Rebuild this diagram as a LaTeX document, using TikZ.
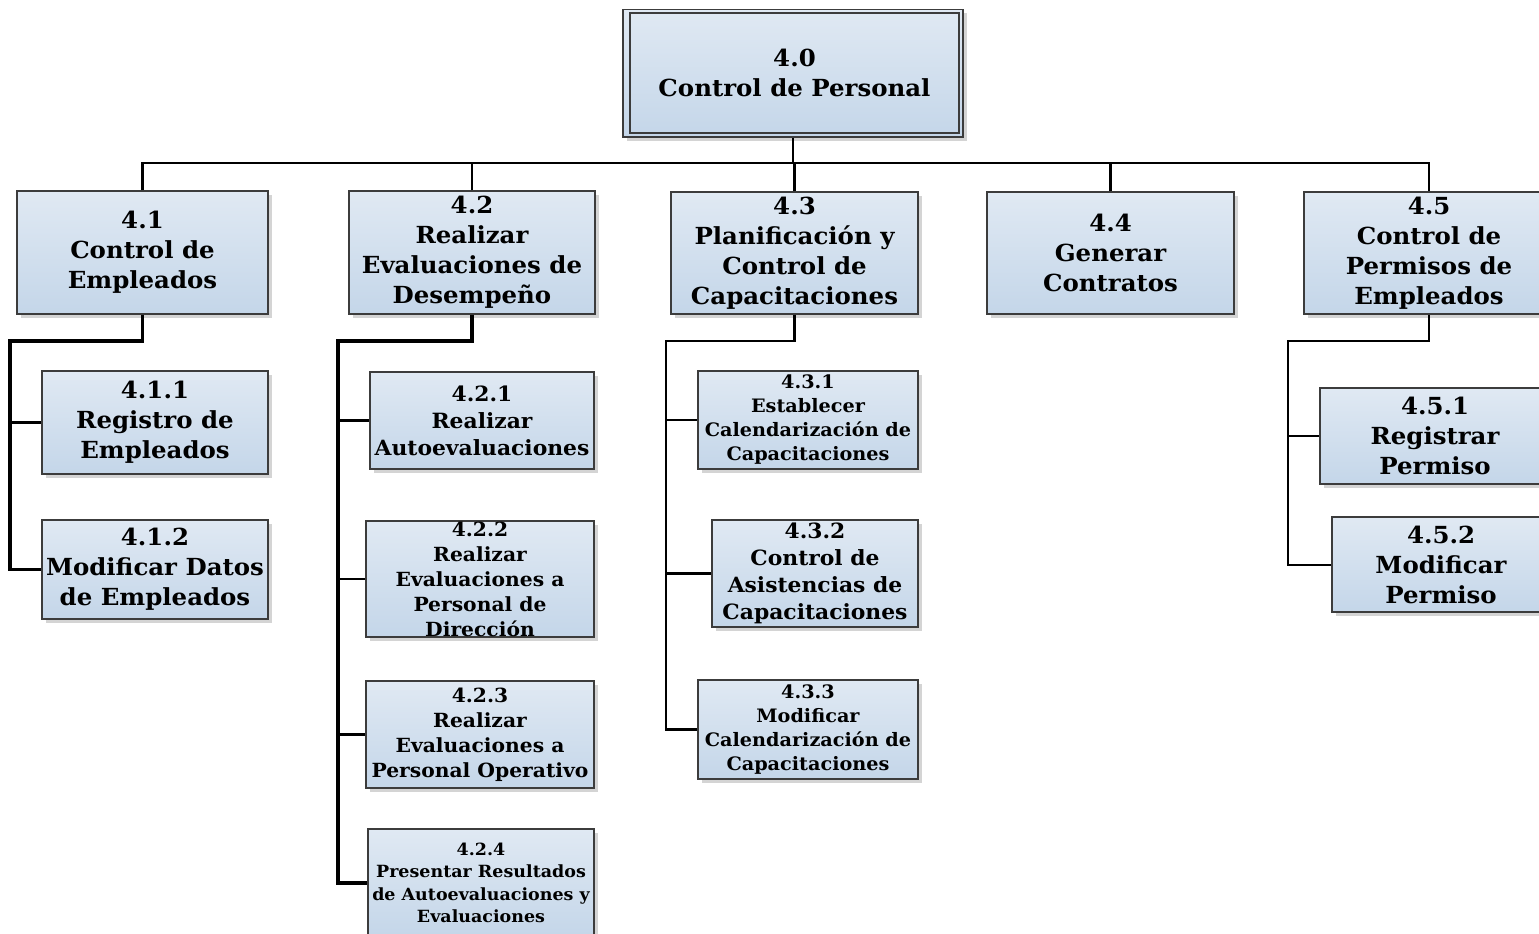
\documentclass[tikz,border=0pt]{standalone}
\usepackage{fontspec}
\setmainfont{DejaVu Serif}[FakeStretch=1.04]
\usetikzlibrary{shadows}
\definecolor{boxtop}{RGB}{224,233,243}
\definecolor{boxbot}{RGB}{196,214,233}
\definecolor{boxline}{RGB}{60,60,60}
\definecolor{shadowgray}{RGB}{212,212,212}
\newcommand{\fbig}{\fontsize{23.5}{30}\selectfont}
\newcommand{\fmed}{\fontsize{21}{27}\selectfont}
\newcommand{\fmid}{\fontsize{19.5}{25}\selectfont}
\newcommand{\fsml}{\fontsize{18.5}{24}\selectfont}
\newcommand{\ftin}{\fontsize{16.8}{22.5}\selectfont}
\tikzset{
  box/.style={rectangle, draw=boxline, line width=1.3pt,
    top color=boxtop, bottom color=boxbot, align=center, inner sep=0pt,
    font=\bfseries\fbig,
    drop shadow={shadow xshift=4pt, shadow yshift=-4pt, fill=shadowgray, opacity=1}},
  frame/.style={rectangle, draw=boxline, line width=1.2pt, align=center,
    inner sep=0pt, font=\bfseries\fbig},
  link/.style={draw=black, line width=3.1pt},
  buslink/.style={draw=black, line width=2.8pt},
  thinlink/.style={draw=black, line width=2.4pt},
  hairlink/.style={draw=black, line width=2.0pt}
}
\begin{document}
\begin{tikzpicture}[x=1pt,y=-1pt]
\useasboundingbox (0,0) rectangle (1539,934);

% root
\node[box, minimum width=340pt, minimum height=127.5pt] (n40) at (793,73.25) {};
\node[frame, minimum width=329pt, minimum height=120pt] (n40i) at (794.5,73) {4.0\\Control de Personal};

% first level
\node[box, minimum width=251pt, minimum height=123pt] (n41) at (142.5,252.5) {4.1\\Control de\\Empleados};
\node[box, minimum width=246pt, minimum height=123pt] (n42) at (472,252.5) {4.2\\Realizar\\Evaluaciones de\\Desempeño};
\node[box, minimum width=247pt, minimum height=122pt] (n43) at (794.5,253) {4.3\\Planificación y\\Control de\\Capacitaciones};
\node[box, minimum width=247pt, minimum height=122pt] (n44) at (1110.5,253) {4.4\\Generar\\Contratos};
\node[box, minimum width=250pt, minimum height=122pt] (n45) at (1429,253) {4.5\\Control de\\Permisos de\\Empleados};

% second level
\node[box, minimum width=226pt, minimum height=103pt] (n411) at (155,422.5) {4.1.1\\Registro de\\Empleados};
\node[box, minimum width=226pt, minimum height=99pt] (n412) at (155,569.5) {4.1.2\\Modificar Datos\\de Empleados};

\node[box, minimum width=224pt, minimum height=97pt, font=\bfseries\fmed] (n421) at (482,420.5) {4.2.1\\Realizar\\Autoevaluaciones};
\node[box, minimum width=228pt, minimum height=116pt, font=\bfseries\fmid] (n422) at (480,579) {4.2.2\\Realizar\\Evaluaciones a\\Personal de\\Dirección};
\node[box, minimum width=228pt, minimum height=107pt, font=\bfseries\fmid] (n423) at (480,734.5) {4.2.3\\Realizar\\Evaluaciones a\\Personal Operativo};
\node[box, minimum width=226pt, minimum height=108pt, font=\bfseries\ftin] (n424) at (481,883) {4.2.4\\Presentar Resultados\\de Autoevaluaciones y\\Evaluaciones};

\node[box, minimum width=220pt, minimum height=98pt, font=\bfseries\fsml] (n431) at (808,420) {4.3.1\\Establecer\\Calendarización de\\Capacitaciones};
\node[box, minimum width=206pt, minimum height=107pt, font=\bfseries\fmed] (n432) at (815,573.5) {4.3.2\\Control de\\Asistencias de\\Capacitaciones};
\node[box, minimum width=220pt, minimum height=99pt, font=\bfseries\fsml] (n433) at (808,729.5) {4.3.3\\Modificar\\Calendarización de\\Capacitaciones};

\node[box, minimum width=230pt, minimum height=96pt] (n451) at (1435,436) {4.5.1\\Registrar\\Permiso};
\node[box, minimum width=218pt, minimum height=95pt] (n452) at (1441,564.5) {4.5.2\\Modificar\\Permiso};

% bus between the root and the first level
\coordinate (bus) at (0,163);
\draw[buslink] (n41.north) -- (n41.north |- bus) -- (n45.north |- bus) -- (n45.north);
\draw[buslink] (n40.south) -- (n40.south |- bus);
\draw[buslink] (n42.north) -- (n42.north |- bus);
\draw[buslink] (n43.north) -- (n43.north |- bus);
\draw[buslink] (n44.north) -- (n44.north |- bus);

% trunks of the second level
\coordinate (t41) at (10,341);
\coordinate (t42) at (338,341);
\coordinate (t43) at (666,341);
\coordinate (t45) at (1288,341);

\draw[link] (n41.south) |- (t41) -- (t41 |- n412.west) -- (n412.west);
\draw[link] (t41 |- n411.west) -- (n411.west);

\draw[link] (n42.south) |- (t42) -- (t42 |- n424.west) -- (n424.west);
\draw[thinlink] (t42 |- n421.west) -- (n421.west);
\draw[thinlink] (t42 |- n422.west) -- (n422.west);
\draw[thinlink] (t42 |- n423.west) -- (n423.west);

\draw[thinlink] (n43.south) |- (t43) -- (t43 |- n433.west) -- (n433.west);
\draw[thinlink] (t43 |- n431.west) -- (n431.west);
\draw[thinlink] (t43 |- n432.west) -- (n432.west);

\draw[hairlink] (n45.south) |- (t45) -- (t45 |- n452.west) -- (n452.west);
\draw[hairlink] (t45 |- n451.west) -- (n451.west);
\end{tikzpicture}
\end{document}
